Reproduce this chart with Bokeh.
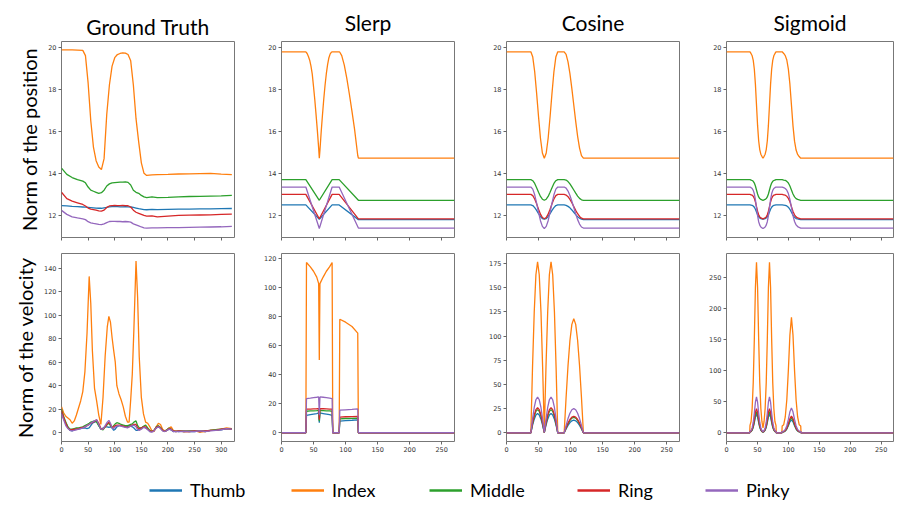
import numpy as np
from bokeh.plotting import figure
from bokeh.layouts import row, column
from bokeh.models import Range1d, FixedTicker, Legend, LegendItem, Title
from bokeh.embed import file_html
from bokeh.resources import INLINE

FINGERS = ["Thumb", "Index", "Middle", "Ring", "Pinky"]
COLORS = ["#1f77b4", "#ff7f0e", "#2ca02c", "#d62728", "#9467bd"]
METHODS = ["Ground Truth", "Slerp", "Cosine", "Sigmoid"]
ROW_LABELS = ["Norm of the position", "Norm of the velocity"]

POS_TICKS = [12, 14, 16, 18, 20]
GT_X_TICKS = [0, 50, 100, 150, 200, 250, 300]
X_TICKS = [0, 50, 100, 150, 200, 250]
GT_VEL_TICKS = [0, 20, 40, 60, 80, 100, 120, 140]
SL_VEL_TICKS = [0, 20, 40, 60, 80, 100, 120]
CO_VEL_TICKS = [0, 25, 50, 75, 100, 125, 150, 175]
SG_VEL_TICKS = [0, 50, 100, 150, 200, 250]

# ---------------- Ground truth ----------------
gt_pos_x = [0, 10, 20, 30, 40, 45, 50, 55, 60, 65,
            70, 75, 80, 85, 90, 95, 100, 105, 110, 115,
            120, 125, 130, 135, 140, 145, 150, 155, 160, 170,
            180, 200, 220, 240, 260, 280, 300, 320]
gt_pos = {
    "Thumb": [12.47, 12.45, 12.43, 12.42, 12.4, 12.39, 12.38, 12.37, 12.36, 12.35,
              12.34, 12.34, 12.36, 12.38, 12.41, 12.42, 12.42, 12.42, 12.41, 12.41,
              12.42, 12.41, 12.4, 12.38, 12.35, 12.32, 12.3, 12.28, 12.27, 12.29,
              12.28, 12.29, 12.3, 12.3, 12.31, 12.31, 12.32, 12.33],
    "Index": [19.87, 19.87, 19.87, 19.86, 19.85, 19.6, 18.3, 16.5, 15.25, 14.6,
              14.3, 14.18, 14.7, 16.8, 18.2, 19.1, 19.5, 19.65, 19.7, 19.73,
              19.72, 19.65, 19.35, 18.2, 16.6, 15.5, 14.5, 14.0, 13.9, 13.93,
              13.94, 13.95, 13.97, 13.98, 13.99, 14.0, 13.96, 13.94],
    "Middle": [14.25, 13.95, 13.8, 13.7, 13.63, 13.55, 13.35, 13.2, 13.15, 13.1,
               13.05, 13.08, 13.2, 13.4, 13.5, 13.55, 13.56, 13.57, 13.58, 13.58,
               13.6, 13.57, 13.45, 13.2, 13.1, 13.05, 12.95, 12.88, 12.85, 12.88,
               12.85, 12.86, 12.88, 12.9, 12.91, 12.92, 12.93, 12.95],
    "Ring": [13.1, 12.8, 12.68, 12.6, 12.52, 12.45, 12.35, 12.3, 12.28, 12.25,
             12.22, 12.2, 12.25, 12.38, 12.45, 12.47, 12.48, 12.47, 12.47, 12.48,
             12.47, 12.46, 12.4, 12.25, 12.15, 12.1, 12.05, 12.0, 11.97, 11.98,
             11.93, 11.97, 12.0, 12.01, 12.02, 12.03, 12.05, 12.06],
    "Pinky": [12.24, 12.05, 11.93, 11.88, 11.84, 11.8, 11.7, 11.65, 11.62, 11.6,
              11.57, 11.56, 11.6, 11.66, 11.71, 11.72, 11.72, 11.71, 11.71, 11.7,
              11.71, 11.7, 11.68, 11.6, 11.55, 11.5, 11.45, 11.41, 11.4, 11.41,
              11.41, 11.42, 11.42, 11.43, 11.44, 11.45, 11.46, 11.48],
}

gt_vel_x = [0, 4, 8, 12, 16, 20, 24, 28, 32, 36,
            40, 44, 48, 52, 55, 58, 62, 66, 70, 74,
            78, 82, 86, 89, 92, 95, 98, 101, 104, 108,
            112, 116, 120, 124, 127, 130, 133, 136, 140, 143,
            146, 150, 154, 158, 162, 166, 170, 174, 178, 182,
            186, 190, 194, 198, 202, 206, 210, 215, 220, 230,
            240, 250, 260, 270, 280, 290, 300, 310, 320]
gt_vel = {
    "Thumb": [17, 12, 8, 5, 2, 1.5, 2.5, 3, 3, 3.5,
              4, 4, 3.5, 4, 6, 8, 9, 10, 6, 3,
              4, 5, 5, 4.5, 5, 4, 2, 3, 5, 6,
              6, 5.5, 5, 5, 6, 5.5, 5, 4, 2, 2,
              3, 3.5, 5, 4, 3, 1, 1, 2, 4, 5,
              4, 2, 1, 2, 3, 2.5, 1, 1.5, 1, 1.5,
              1, 1, 1.5, 1, 2, 2, 2.5, 3.5, 3],
    "Index": [22, 17, 14, 12.5, 11, 8, 10, 15, 21, 27,
              35, 52, 85, 133, 110, 70, 38, 27, 15, 7,
              30, 65, 90, 99, 94, 81, 70, 60, 40, 33,
              28, 22, 14, 9, 9, 28, 50, 88, 146, 115,
              65, 30, 16, 9, 8, 5, 1.5, 1, 5, 8,
              7, 3, 1.5, 2.5, 4, 5, 2, 1.5, 1.5, 1,
              1, 1.5, 0.5, 1, 2, 2.5, 3, 4, 3.5],
    "Middle": [20, 14, 9, 5, 3, 3, 3.5, 4, 4, 4.5,
               5, 6, 7, 8, 9, 9.5, 10, 9, 6, 3,
               2.5, 5, 7, 8, 6, 4, 6, 7.5, 8.5, 8,
               7, 6.5, 6, 6, 6.5, 7, 7.5, 9, 10, 6,
               4, 4, 5.5, 6.5, 4, 2, 1, 2, 5, 6,
               4.5, 2, 1, 2.5, 4, 3, 1.5, 1, 1.5, 1,
               1.5, 1.5, 1, 1.5, 2, 2.5, 3, 3.5, 3.5],
    "Ring": [19, 13, 8, 4, 2.5, 2.5, 3, 3, 3.5, 4,
             4.5, 5, 6, 7, 8, 8.5, 9.5, 11, 8, 3.5,
             3, 5, 7.5, 9, 7, 4.5, 5, 6, 6.5, 6.5,
             6, 5.5, 5, 4.5, 5, 6, 6.5, 7, 7, 4,
             3.5, 4, 5, 5, 3, 1.5, 1, 2, 4.5, 5.5,
             4, 2, 1, 2, 3.5, 3, 1.5, 1, 1.5, 1,
             1, 1.5, 1, 1.5, 2, 2, 3, 3.5, 3],
    "Pinky": [16, 11, 6, 3.5, 2, 1.5, 2, 2.5, 3, 3.5,
              4, 5, 6, 7, 8, 9, 10, 11, 7, 3,
              3, 6, 9, 10.5, 8, 4, 3.5, 5, 5.5, 6,
              5.5, 5, 4.5, 4, 5, 5.5, 6, 6.5, 5, 2.5,
              2, 3, 4.5, 4, 2.5, 1, 0.5, 1.5, 4, 5,
              3.5, 1.5, 1, 2, 3, 2.5, 1, 1, 1, 1,
              1, 1, 1.5, 1, 1.5, 2, 2.5, 3.5, 3],
}

# ---------------- Slerp ----------------
slerp_pos_x_index = [0, 38, 40, 42, 44, 46, 48, 50, 52, 54, 56, 58, 59,
                     60, 62, 64, 66, 68, 70, 72, 74, 76, 78,
                     79, 80, 90,
                     91, 94, 98, 102, 106, 110, 114, 118, 119, 120,
                     270]
slerp_pos_x_other = [0, 38, 59, 79, 90, 120, 270]
slerp_pos = {
    "Thumb": [12.5, 12.5, 11.82, 12.5, 12.5, 11.80, 11.80],
    "Index": [19.78, 19.78, 19.70, 19.56, 19.38, 19.10, 18.72, 18.12, 17.49, 16.77, 16.02, 15.20, 14.72,
              15.10, 16.00, 16.80, 17.55, 18.20, 18.75, 19.18, 19.50, 19.68, 19.76,
              19.78, 19.78, 19.78,
              19.76, 19.60, 19.15, 18.50, 17.75, 16.95, 16.10, 15.10, 14.85, 14.72,
              14.72],
    "Middle": [13.7, 13.7, 12.72, 13.7, 13.7, 12.72, 12.72],
    "Ring": [13.0, 13.0, 11.84, 13.0, 13.0, 11.84, 11.84],
    "Pinky": [13.35, 13.35, 11.38, 13.35, 13.35, 11.40, 11.40],
}
slerp_vel_x = [0, 38, 39, 45, 50, 55, 58, 59, 60, 65, 70, 75, 79, 80, 90, 91, 100, 110, 119, 120, 270]
slerp_vel = {
    "Thumb": [0, 0, 11.9, 12.4, 12.8, 13.2, 13.6, 7, 13.6, 13.2, 12.8, 12.4, 11.9, 0, 0, 8, 8.3, 8.6, 8.9, 0, 0],
    "Index": [0, 0, 117, 114, 111, 107, 102.5, 50, 102.5, 107, 111, 114, 117, 0, 0, 78, 76, 73, 68.5, 0, 0],
    "Middle": [0, 0, 14.8, 15, 15.1, 15.2, 15.3, 8, 15.3, 15.2, 15.1, 15, 14.8, 0, 0, 9.6, 9.8, 9.9, 10, 0, 0],
    "Ring": [0, 0, 16.2, 16.3, 16.4, 16.5, 16.6, 9, 16.6, 16.5, 16.4, 16.3, 16.2, 0, 0, 10.8, 11, 11.1, 11.2, 0, 0],
    "Pinky": [0, 0, 23.5, 23.8, 24.1, 24.4, 24.6, 12, 24.6, 24.4, 24.1, 23.8, 23.5, 0, 0, 15.5, 15.8, 16.1, 16.4, 0, 0],
}

# ---------------- Cosine ----------------
cos_pos_x = [0, 38, 41, 44, 47, 50, 53, 56, 59, 62, 65, 68, 71, 74, 77, 80,
             90, 93, 96, 99, 102, 105, 108, 111, 114, 117, 120, 270]
cos_pos = {
    "Thumb": [12.5, 12.5, 12.47, 12.37, 12.24, 12.08, 11.95, 11.85, 11.82, 11.85, 11.95, 12.08, 12.24, 12.37, 12.47, 12.5,
              12.5, 12.48, 12.43, 12.36, 12.26, 12.15, 12.04, 11.94, 11.87, 11.82, 11.80, 11.80],
    "Index": [19.78, 19.78, 19.53, 18.83, 17.81, 16.69, 15.67, 14.97, 14.72, 14.97, 15.67, 16.69, 17.81, 18.83, 19.53, 19.78,
              19.78, 19.66, 19.30, 18.74, 18.03, 17.25, 16.47, 15.76, 15.20, 14.84, 14.72, 14.72],
    "Middle": [13.70, 13.70, 13.65, 13.52, 13.32, 13.10, 12.90, 12.77, 12.72, 12.77, 12.90, 13.10, 13.32, 13.52, 13.65, 13.70,
               13.70, 13.68, 13.61, 13.50, 13.36, 13.21, 13.06, 12.92, 12.81, 12.74, 12.72, 12.72],
    "Ring": [13.0, 13.0, 12.94, 12.78, 12.55, 12.29, 12.06, 11.90, 11.84, 11.90, 12.06, 12.29, 12.55, 12.78, 12.94, 13.0,
             13.0, 12.97, 12.89, 12.76, 12.60, 12.42, 12.24, 12.08, 11.95, 11.87, 11.84, 11.84],
    "Pinky": [13.35, 13.35, 13.25, 12.98, 12.58, 12.15, 11.75, 11.48, 11.38, 11.48, 11.75, 12.15, 12.58, 12.98, 13.25, 13.35,
              13.35, 13.30, 13.16, 12.95, 12.68, 12.38, 12.07, 11.80, 11.59, 11.45, 11.40, 11.40],
}
cos_vel_x = [0, 38, 40.6, 43.3, 45.9, 48.5, 51.1, 53.8, 56.4, 59,
             61.6, 64.3, 66.9, 69.5, 72.1, 74.8, 77.4, 80,
             90, 93, 96, 99, 102, 105, 108, 111, 114, 117, 120, 270]
cos_vel = {
    "Thumb": [0, 0, 7.7, 14.1, 18.5, 20, 18.5, 14.1, 7.7, 0.2, 7.7, 14.1, 18.5, 20, 18.5, 14.1, 7.7, 0,
              0, 4.0, 7.6, 10.5, 12.4, 13, 12.4, 10.5, 7.6, 4.0, 0, 0],
    "Index": [0, 0, 67.7, 125.2, 163.5, 177, 163.5, 125.2, 67.7, 1.5, 67.7, 125.2, 163.5, 177, 163.5, 125.2, 67.7, 0,
              0, 36.5, 69.4, 95.5, 112.2, 118, 112.2, 95.5, 69.4, 36.5, 0, 0],
    "Middle": [0, 0, 9.2, 17.0, 22.2, 24, 22.2, 17.0, 9.2, 0.3, 9.2, 17.0, 22.2, 24, 22.2, 17.0, 9.2, 0,
               0, 4.9, 9.4, 12.9, 15.2, 16, 15.2, 12.9, 9.4, 4.9, 0, 0],
    "Ring": [0, 0, 9.9, 18.4, 24.0, 26, 24.0, 18.4, 9.9, 0.3, 9.9, 18.4, 24.0, 26, 24.0, 18.4, 9.9, 0,
             0, 5.3, 10.0, 13.8, 16.2, 17, 16.2, 13.8, 10.0, 5.3, 0, 0],
    "Pinky": [0, 0, 14.2, 26.2, 34.2, 37, 34.2, 26.2, 14.2, 0.5, 14.2, 26.2, 34.2, 37, 34.2, 26.2, 14.2, 0,
              0, 7.7, 14.7, 20.2, 23.8, 25, 23.8, 20.2, 14.7, 7.7, 0, 0],
}

# ---------------- Sigmoid ----------------
sig_pos_x = [0,
             38, 39.75, 41.5, 43.25, 45, 46.75, 48.5, 50.25, 52, 53.75, 55.5, 57.25, 59,
             60.75, 62.5, 64.25, 66, 67.75, 69.5, 71.25, 73, 74.75, 76.5, 78.25, 80,
             90,
             92.5, 95, 97.5, 100, 102.5, 105, 107.5, 110, 112.5, 115, 117.5, 120,
             270]
sig_pos = {
    "Thumb": [12.50,
              12.50, 12.49, 12.48, 12.45, 12.39, 12.29, 12.16, 12.03, 11.93, 11.88, 11.85, 11.83, 11.82,
              11.83, 11.85, 11.88, 11.93, 12.03, 12.16, 12.29, 12.39, 12.45, 12.48, 12.49, 12.50,
              12.50,
              12.49, 12.48, 12.45, 12.39, 12.29, 12.15, 12.01, 11.91, 11.85, 11.83, 11.81, 11.80,
              11.80],
    "Index": [19.78,
              19.78, 19.69, 19.59, 19.37, 18.95, 18.23, 17.25, 16.28, 15.55, 15.13, 14.91, 14.81, 14.72,
              14.81, 14.91, 15.13, 15.55, 16.28, 17.25, 18.23, 18.95, 19.37, 19.59, 19.69, 19.78,
              19.78,
              19.70, 19.60, 19.39, 18.96, 18.24, 17.25, 16.26, 15.53, 15.11, 14.90, 14.80, 14.72,
              14.72],
    "Middle": [13.70,
               13.70, 13.68, 13.66, 13.62, 13.54, 13.40, 13.21, 13.02, 12.88, 12.80, 12.76, 12.74, 12.72,
               12.74, 12.76, 12.80, 12.88, 13.02, 13.21, 13.40, 13.54, 13.62, 13.66, 13.68, 13.70,
               13.70,
               13.68, 13.67, 13.62, 13.54, 13.40, 13.21, 13.02, 12.88, 12.80, 12.76, 12.74, 12.72,
               12.72],
    "Ring": [13.00,
             13.00, 12.98, 12.96, 12.91, 12.81, 12.64, 12.42, 12.20, 12.03, 11.93, 11.88, 11.86, 11.84,
             11.86, 11.88, 11.93, 12.03, 12.20, 12.42, 12.64, 12.81, 12.91, 12.96, 12.98, 13.00,
             13.00,
             12.98, 12.96, 12.91, 12.81, 12.65, 12.42, 12.19, 12.03, 11.93, 11.88, 11.86, 11.84,
             11.84],
    "Pinky": [13.35,
              13.35, 13.32, 13.28, 13.19, 13.03, 12.75, 12.37, 11.99, 11.70, 11.54, 11.45, 11.41, 11.38,
              11.41, 11.45, 11.54, 11.70, 11.99, 12.37, 12.75, 13.03, 13.19, 13.28, 13.32, 13.35,
              13.35,
              13.32, 13.28, 13.20, 13.04, 12.76, 12.38, 11.99, 11.71, 11.55, 11.47, 11.43, 11.40,
              11.40],
}
sig_vel_x = [0, 37.5,
             38, 39.75, 41.5, 43.25, 45, 46.75, 48.5, 50.25, 52, 53.75, 55.5, 57.25, 59,
             60.75, 62.5, 64.25, 66, 67.75, 69.5, 71.25, 73, 74.75, 76.5, 78.25, 80,
             80.5, 89.5,
             90, 92.5, 95, 97.5, 100, 102.5, 105, 107.5, 110, 112.5, 115, 117.5, 120,
             120.5, 270]
sig_vel = {
    "Thumb": [0, 0,
              1.3, 2.0, 4.3, 8.9, 16.5, 25.5, 30, 25.5, 16.5, 8.9, 4.3, 2.0, 0.9,
              2.0, 4.3, 8.9, 16.5, 25.5, 30, 25.5, 16.5, 8.9, 4.3, 2.0, 1.3,
              0, 0,
              1.2, 1.5, 2.9, 6.0, 11.4, 17.8, 21, 17.8, 11.4, 6.0, 2.9, 1.5, 1.2,
              0, 0],
    "Index": [0, 0,
              12, 18.3, 39.5, 81.3, 151.3, 234.2, 275, 234.2, 151.3, 81.3, 39.5, 18.3, 8,
              18.3, 39.5, 81.3, 151.3, 234.2, 275, 234.2, 151.3, 81.3, 39.5, 18.3, 12,
              0, 0,
              11, 13, 25.5, 53.3, 100.6, 157.6, 186, 157.6, 100.6, 53.3, 25.5, 13, 11,
              0, 0],
    "Middle": [0, 0,
               1.5, 2.3, 4.9, 10.1, 18.7, 29.0, 34, 29.0, 18.7, 10.1, 4.9, 2.3, 1.0,
               2.3, 4.9, 10.1, 18.7, 29.0, 34, 29.0, 18.7, 10.1, 4.9, 2.3, 1.5,
               0, 0,
               1.4, 1.7, 3.3, 6.9, 13.0, 20.3, 24, 20.3, 13.0, 6.9, 3.3, 1.7, 1.4,
               0, 0],
    "Ring": [0, 0,
             1.7, 2.6, 5.6, 11.5, 21.5, 33.2, 39, 33.2, 21.5, 11.5, 5.6, 2.6, 1.1,
             2.6, 5.6, 11.5, 21.5, 33.2, 39, 33.2, 21.5, 11.5, 5.6, 2.6, 1.7,
             0, 0,
             1.6, 1.9, 3.7, 7.7, 14.6, 22.9, 27, 22.9, 14.6, 7.7, 3.7, 1.9, 1.6,
             0, 0],
    "Pinky": [0, 0,
              2.5, 3.9, 8.3, 17.1, 31.8, 49.3, 58, 49.3, 31.8, 17.1, 8.3, 3.9, 1.7,
              3.9, 8.3, 17.1, 31.8, 49.3, 58, 49.3, 31.8, 17.1, 8.3, 3.9, 2.5,
              0, 0,
              2.4, 2.8, 5.5, 11.5, 21.6, 33.9, 40, 33.9, 21.6, 11.5, 5.5, 2.8, 2.4,
              0, 0],
}

FONT = "Lato"


def make_panel(xr, yr, xticks, yticks, fw, fh, bl, br, bt, bb, show_xlabels,
               title=None, title_offset=0, title_standoff=10, ylabel=None):
    p = figure(x_range=Range1d(*xr), y_range=Range1d(*yr),
               frame_width=fw, frame_height=fh,
               min_border_left=bl, min_border_right=br,
               min_border_top=bt, min_border_bottom=bb,
               output_backend="svg", toolbar_location=None, title=None)
    p.outline_line_color = "#777777"
    p.outline_line_width = 1
    p.grid.visible = False
    p.background_fill_color = "white"
    p.border_fill_color = "white"
    for ax in (p.xaxis[0], p.yaxis[0]):
        ax.axis_line_color = None
        ax.major_tick_in = 0
        ax.major_tick_out = 3
        ax.minor_tick_in = 0
        ax.minor_tick_out = 0
        ax.minor_tick_line_color = None
        ax.major_tick_line_color = "#666666"
        ax.major_label_text_font = "DejaVu Sans"
        ax.major_label_text_font_size = "6.5px"
        ax.major_label_text_color = "#333333"
        ax.major_label_standoff = 2
    p.yaxis.ticker = FixedTicker(ticks=yticks)
    if show_xlabels:
        p.xaxis.ticker = FixedTicker(ticks=xticks)
    else:
        # tick marks only, no labels (as in the reference's upper row)
        p.xaxis.ticker = FixedTicker(ticks=[], minor_ticks=xticks)
        p.xaxis.minor_tick_out = 3
        p.xaxis.minor_tick_line_color = "#666666"
    if title is not None:
        p.title = Title(text=title, align="center", offset=title_offset,
                        text_font=FONT, text_font_size="21px",
                        text_font_style="normal", text_color="#000000",
                        standoff=title_standoff)
    if ylabel is not None:
        p.yaxis.axis_label = ylabel
        p.yaxis.axis_label_text_font = FONT
        p.yaxis.axis_label_text_font_size = "20px"
        p.yaxis.axis_label_text_font_style = "normal"
        p.yaxis.axis_label_text_color = "#000000"
        p.yaxis.axis_label_standoff = 4
    return p


def draw(p, xs, data):
    for f, c in zip(FINGERS, COLORS):
        x = xs[f] if isinstance(xs, dict) else xs
        p.line(x, data[f], line_color=c, line_width=1.3)


POS_Y = (10.95, 20.27)
# column geometry: (left border, frame width, right border, title offset)
COLS = [(61, 173, 20, -6), (27, 173, 22, 3), (30, 173, 20, -11), (27, 167, 1, 11)]
XR = [(0, 325), (0, 270), (0, 270), (0, 270)]
XT = [GT_X_TICKS, X_TICKS, X_TICKS, X_TICKS]
TSTAND = [6, 14, 14, 14]

top_data = [(gt_pos_x, gt_pos),
            ({f: (slerp_pos_x_index if f == "Index" else slerp_pos_x_other) for f in FINGERS}, slerp_pos),
            (cos_pos_x, cos_pos), (sig_pos_x, sig_pos)]
bot_data = [(gt_vel_x, gt_vel), (slerp_vel_x, slerp_vel), (cos_vel_x, cos_vel), (sig_vel_x, sig_vel)]
VEL_Y = [(-7.5, 152.5), (-6.0, 123.2), (-9.0, 185.5), (-14.0, 289.0)]
VEL_T = [GT_VEL_TICKS, SL_VEL_TICKS, CO_VEL_TICKS, SG_VEL_TICKS]

top_figs, bot_figs = [], []
for i in range(4):
    bl, fw, br, toff = COLS[i]
    pt = make_panel(XR[i], POS_Y, XT[i], POS_TICKS, fw, 196, bl, br, 39, 8, False,
                    title=METHODS[i], title_offset=toff, title_standoff=TSTAND[i],
                    ylabel=ROW_LABELS[0] if i == 0 else None)
    draw(pt, *top_data[i])
    top_figs.append(pt)
    pb = make_panel(XR[i], VEL_Y[i], XT[i], VEL_T[i], fw, 188, bl, br, 8, 22, True,
                    ylabel=ROW_LABELS[1] if i == 0 else None)
    draw(pb, *bot_data[i])
    bot_figs.append(pb)

# legend strip
leg = figure(width=894, height=38, x_range=Range1d(0, 1), y_range=Range1d(0, 1),
             x_axis_type=None, y_axis_type=None, min_border=0,
             output_backend="svg", toolbar_location=None, title=None)
leg.outline_line_color = None
leg.grid.visible = False
LEG_POS = [149, 291, 429, 577, 705]
for f, c, lx in zip(FINGERS, COLORS, LEG_POS):
    r = leg.line(x=np.array([np.nan]), y=np.array([np.nan]), line_color=c, line_width=2.5)
    lg = Legend(items=[LegendItem(label=f, renderers=[r])], location=(lx, 0),
                border_line_color=None, background_fill_alpha=0, padding=0, margin=0,
                glyph_width=33, glyph_height=20, label_standoff=8, label_height=20,
                label_text_font=FONT, label_text_font_size="18px", label_text_color="#000000")
    leg.add_layout(lg, "center")

layout = column(row(*top_figs), row(*bot_figs), leg)
open("out.html", "w").write(file_html(layout, INLINE))
